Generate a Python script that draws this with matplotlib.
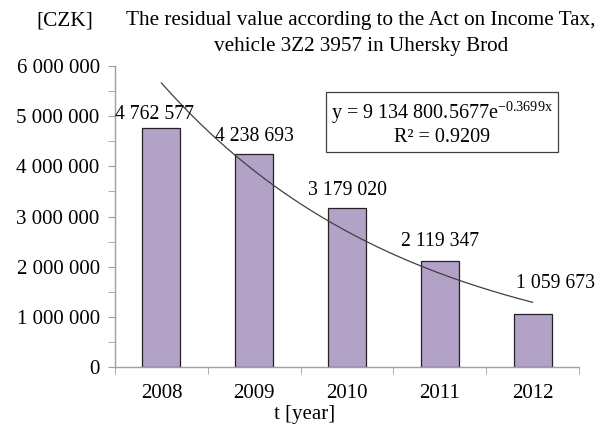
import numpy as np
import matplotlib
matplotlib.use("Agg")
import matplotlib.pyplot as plt
from matplotlib.ticker import FuncFormatter, MultipleLocator

years = ["2008", "2009", "2010", "2011", "2012"]
values = [4762577, 4238693, 3179020, 2119347, 1059673]
y_ticks = [0, 1000000, 2000000, 3000000, 4000000, 5000000, 6000000]
eq_text = "y = 9 134 800.5677e$^{-0.3699x}$\nR² = 0.9209"

# label offsets (pixels) relative to bar top centre, as placed in the original
label_dx = [-7, 0, 0, 0, 23]
label_dy = [9, 13, 13, 15, 26]

plt.rcParams['font.family'] = ['Liberation Serif', 'DejaVu Serif']
plt.rcParams['mathtext.fontset'] = 'custom'
plt.rcParams['mathtext.rm'] = 'Liberation Serif'
plt.rcParams['mathtext.it'] = 'Liberation Serif'

def fmt(v):
    return f"{int(round(v)):,}".replace(",", " ")

fig = plt.figure(figsize=(6.01, 4.30), dpi=100)
ax = fig.add_axes([115/601, 1-367/430, (579-115)/601, (367-66)/430])

x = np.arange(1, len(years) + 1)
ax.bar(x, values, width=0.41, color="#b3a2c7", edgecolor="#222222", linewidth=0.9, zorder=2)

px2pt = 72 / fig.dpi
for xi, v, dx, dy in zip(x, values, label_dx, label_dy):
    ax.annotate(fmt(v), (xi, v), xytext=(dx * px2pt, dy * px2pt), textcoords="offset points",
                ha="center", va="baseline", fontsize=14.2, zorder=4)

# exponential trendline fitted from the data
b, a = np.polyfit(x, np.log(values), 1)
xs = np.linspace(1, 5, 200)
ax.plot(xs, np.exp(a) * np.exp(b * xs), color="#404040", linewidth=0.9, zorder=3)

ax.set_xlim(0.5, 5.5)
ax.set_ylim(0, 6000000)
ax.set_yticks(y_ticks)
ax.yaxis.set_major_formatter(FuncFormatter(lambda v, p: fmt(v)))
ax.yaxis.set_minor_locator(MultipleLocator(500000))
ax.set_xticks(x)
ax.set_xticklabels(years)
ax.set_xticks(np.arange(0.5, 5.6, 1), minor=True)
ax.tick_params(axis="x", which="major", length=0, pad=12, labelsize=15)
ax.tick_params(axis="x", which="minor", length=5, color="#a0a0a0", direction="out")
ax.tick_params(axis="y", which="both", length=5, color="#a0a0a0", direction="out", labelsize=15, pad=6)

for s in ["top", "right"]:
    ax.spines[s].set_visible(False)
for s in ["left", "bottom"]:
    ax.spines[s].set_color("#a0a0a0")
    ax.spines[s].set_linewidth(1.0)

fig.text(305/601, 1-415/430, "t [year]", ha="center", va="center", fontsize=15)
fig.text(65/601, 1-21/430, "[CZK]", ha="center", va="center", fontsize=15.3)
fig.text(361/601, 1-21/430, "The residual value according to the Act on Income Tax,",
         ha="center", va="center", fontsize=15.2)
fig.text(361/601, 1-46/430, "vehicle 3Z2 3957 in Uhersky Brod",
         ha="center", va="center", fontsize=15.2)

fig.text(442/601, 1-123/430, eq_text, ha="center", va="center", fontsize=14.5,
         linespacing=1.15,
         bbox=dict(boxstyle="square,pad=0.25", facecolor="white", edgecolor="#404040", linewidth=0.9))

fig.savefig("out.png", dpi=100)
